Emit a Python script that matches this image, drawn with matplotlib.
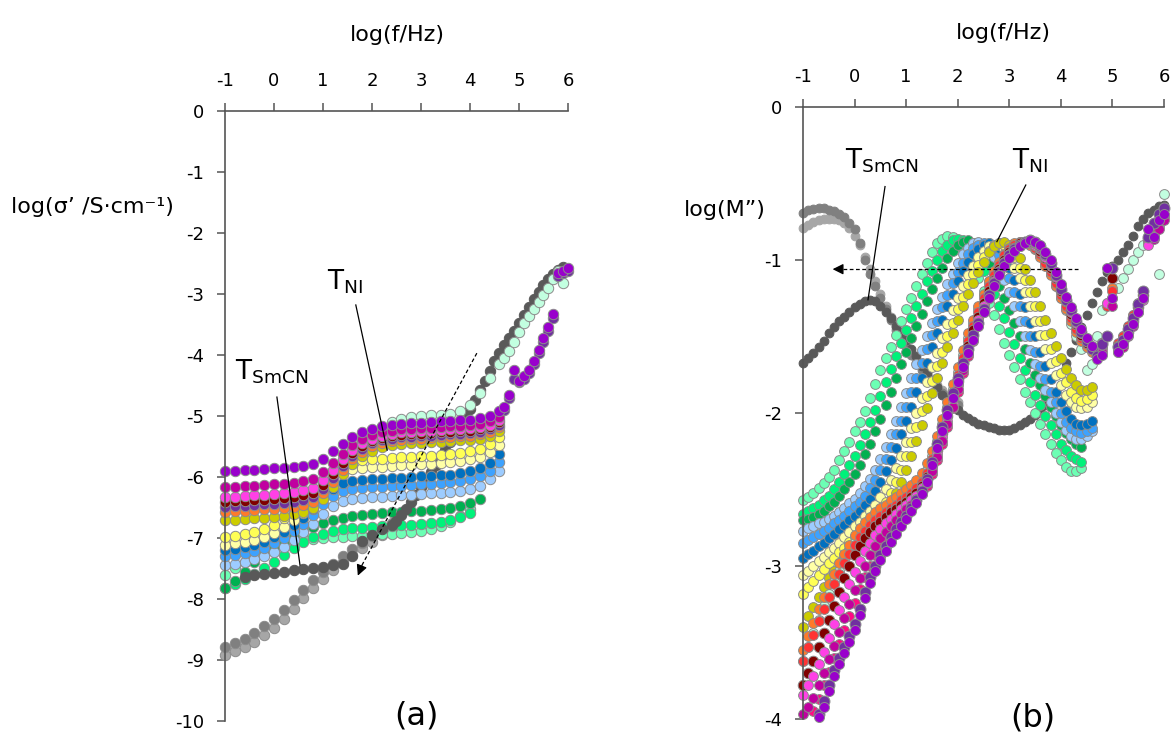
import numpy as np
import matplotlib
matplotlib.use("Agg")
import matplotlib.pyplot as plt

plt.rcParams["font.family"] = ["DejaVu Sans"]
plt.rcParams["axes.unicode_minus"] = False
plt.rcParams["mathtext.default"] = "regular"

nan = np.nan

# ---------------- panel (a): log(sigma') vs log(f) ----------------
freq_a = [-1.0, -0.8, -0.6, -0.4, -0.2, 0.0, 0.2, 0.4, 0.6, 0.8, 1.0, 1.2, 1.4, 1.6, 1.8,
          2.0, 2.2, 2.4, 2.6, 2.8, 3.0, 3.2, 3.4, 3.6, 3.8, 4.0, 4.2, 4.4, 4.6]
freq_a_hf = [4.7, 4.8, 4.9, 5.0, 5.1, 5.2, 5.3, 5.4, 5.5, 5.6, 5.7, 5.8, 5.9, 6.0]
freq_a_grey_hf = [2.5, 2.6, 2.7, 2.8, 2.9, 3.0, 3.1, 3.2, 3.3, 3.4, 3.5, 3.6, 3.7, 3.8, 3.9,
                  4.0, 4.1, 4.2, 4.3, 4.4, 4.5, 4.6, 4.7, 4.8, 4.9, 5.0, 5.1, 5.2, 5.3, 5.4,
                  5.5, 5.6, 5.7, 5.8, 5.9]

sig_lightgrey = [-8.92, -8.86, -8.79, -8.70, -8.59, -8.47, -8.32, -8.16, -7.99, -7.82, -7.67, -7.53,
                 -7.40, -7.28, -7.17, -7.06, -6.95, -6.84]
sig_grey = [-8.78, -8.72, -8.65, -8.56, -8.45, -8.33, -8.18, -8.02, -7.85, -7.69, -7.55, -7.42,
            -7.29, -7.18, -7.08, -6.97, -6.86, -6.76]
sig_darkgrey = [nan, nan, -7.64, -7.61, -7.59, -7.57, -7.55, -7.53, -7.51, -7.49, -7.47, -7.45,
                -7.42, -7.30, -7.05, -6.95, -6.86, -6.78]
sig_darkgrey_hf = [-6.72, -6.62, -6.52, -6.41, -6.29, -6.16, -6.04, -5.92, -5.80, -5.68, -5.56, -5.43,
                   -5.30, -5.16, -5.02, -4.88, -4.73, -4.58, -4.42, -4.26, -4.10, -3.96, -3.84, -3.72,
                   -3.60, -3.47, -3.34, -3.21, -3.09, -2.97, -2.86, -2.76, -2.67, -2.60, -2.55]
sig_mint = [-7.60, -7.50, -7.40, -7.30, -7.21, -7.13, -7.07, -7.04, -7.02, -7.01, -7.00, -6.99, -6.98,
            -6.97, -6.96, -6.95, -6.94, -6.93, -6.92, -6.90, -6.88, -6.85, -6.80, -6.73, -6.64, -6.52]
sig_brightgreen = [-7.82, -7.76, -7.68, -7.59, -7.49, -7.39, -7.28, -7.17, -7.07, -6.99, -6.93, -6.89,
                   -6.86, -6.84, -6.83, -6.82, -6.81, -6.80, -6.79, -6.78, -6.77, -6.76, -6.74, -6.71,
                   -6.66, -6.59]
sig_green = [-7.82, -7.70, -7.55, -7.40, -7.27, -7.16, -7.06, -6.97, -6.89, -6.82, -6.76, -6.71, -6.67,
             -6.64, -6.62, -6.60, -6.59, -6.58, -6.57, -6.56, -6.55, -6.54, -6.53, -6.51, -6.48, -6.43,
             -6.36]
sig_paleblue = [-7.44, -7.42, -7.39, -7.35, -7.30, -7.23, -7.14, -7.03, -6.91, -6.77, -6.61, -6.47, -6.39,
                -6.36, -6.34, -6.33, -6.32, -6.31, -6.30, -6.29, -6.28, -6.27, -6.26, -6.25, -6.23, -6.20,
                -6.14, -6.04, -5.90]
sig_lightblue = [-7.30, -7.28, -7.25, -7.21, -7.16, -7.09, -7.00, -6.89, -6.77, -6.62, -6.45, -6.31, -6.23,
                 -6.20, -6.18, -6.17, -6.16, -6.15, -6.14, -6.13, -6.12, -6.11, -6.10, -6.09, -6.07, -6.04,
                 -5.99, -5.90, -5.76]
sig_blue = [-7.20, -7.18, -7.15, -7.11, -7.06, -6.99, -6.90, -6.79, -6.67, -6.52, -6.34, -6.19, -6.10,
            -6.07, -6.05, -6.04, -6.03, -6.02, -6.01, -6.00, -5.99, -5.98, -5.97, -5.96, -5.94, -5.91,
            -5.86, -5.77, -5.63]
sig_paleyellow = [-7.11, -7.09, -7.06, -7.03, -6.99, -6.92, -6.82, -6.70, -6.59, -6.44, -6.23, -6.04, -5.92,
                  -5.87, -5.85, -5.84, -5.83, -5.82, -5.81, -5.80, -5.79, -5.78, -5.77, -5.76, -5.74, -5.71,
                  -5.67, -5.59, -5.47]
sig_yellow = [-6.98, -6.96, -6.93, -6.90, -6.86, -6.78, -6.68, -6.56, -6.46, -6.30, -6.08, -5.90, -5.79,
              -5.74, -5.72, -5.71, -5.70, -5.69, -5.68, -5.67, -5.66, -5.65, -5.64, -5.63, -5.61, -5.58,
              -5.54, -5.46, -5.34]
sig_darkyellow = [-6.71, -6.70, -6.69, -6.68, -6.67, -6.66, -6.64, -6.61, -6.57, -6.51, -6.36, -6.16, -5.95,
                  -5.78, -5.66, -5.57, -5.51, -5.48, -5.46, -5.45, -5.44, -5.43, -5.42, -5.41, -5.40, -5.39,
                  -5.37, -5.32, -5.24]
sig_orange = [-6.57, -6.56, -6.55, -6.54, -6.53, -6.52, -6.51, -6.49, -6.46, -6.41, -6.27, -6.08, -5.88,
              -5.71, -5.59, -5.50, -5.44, -5.41, -5.39, -5.38, -5.37, -5.36, -5.35, -5.34, -5.33, -5.32,
              -5.30, -5.26, -5.18]
sig_purple = [-6.49, -6.48, -6.47, -6.46, -6.45, -6.44, -6.43, -6.41, -6.38, -6.33, -6.19, -6.01, -5.82,
              -5.66, -5.54, -5.45, -5.40, -5.37, -5.35, -5.34, -5.33, -5.32, -5.31, -5.30, -5.29, -5.28,
              -5.26, -5.22, -5.14]
sig_maroon = [-6.41, -6.40, -6.39, -6.38, -6.37, -6.36, -6.35, -6.33, -6.30, -6.26, -6.13, -5.95, -5.77,
              -5.61, -5.50, -5.41, -5.36, -5.33, -5.31, -5.30, -5.29, -5.28, -5.27, -5.26, -5.25, -5.24,
              -5.22, -5.18, -5.10]
sig_pink = [-6.33, -6.32, -6.31, -6.30, -6.29, -6.28, -6.27, -6.25, -6.22, -6.18, -6.05, -5.88, -5.71,
            -5.56, -5.45, -5.37, -5.32, -5.29, -5.27, -5.26, -5.25, -5.24, -5.23, -5.22, -5.21, -5.20,
            -5.18, -5.14, -5.06]
sig_magenta = [-6.17, -6.16, -6.15, -6.14, -6.13, -6.12, -6.11, -6.10, -6.07, -6.03, -5.92, -5.77, -5.62,
               -5.48, -5.38, -5.31, -5.26, -5.24, -5.22, -5.21, -5.20, -5.19, -5.18, -5.17, -5.16, -5.15,
               -5.13, -5.09, -5.01]
sig_violet = [-5.91, -5.90, -5.89, -5.88, -5.87, -5.86, -5.85, -5.84, -5.82, -5.79, -5.70, -5.58, -5.46,
              -5.35, -5.27, -5.21, -5.17, -5.15, -5.13, -5.12, -5.11, -5.10, -5.09, -5.08, -5.07, -5.06,
              -5.04, -5.00, -4.92]
sig_palemint = [nan, nan, nan, nan, nan, nan, nan, nan, nan, nan, nan, nan, nan, nan,
                -5.45, -5.30, -5.18, -5.10, -5.05, -5.02, -5.00, -4.99, -4.98, -4.96, -4.92, -4.82,
                -4.62, -4.38, -4.15]
sig_palemint_hf = [-4.05, -3.93, -3.78, -3.62, -3.48, -3.36, -3.24, -3.13, -3.02, -2.90, -2.76, -2.62,
                   -2.82, nan]
sig_purple_hf = [-4.90, -4.70, -4.40, -4.45, -4.40, -4.30, -4.15, -3.97, -3.78, -3.60, -3.40, -2.70,
                 -2.66, -2.62]
sig_violet_hf = [-4.85, -4.65, -4.25, -4.42, -4.35, -4.25, -4.10, -3.92, -3.72, -3.54, -3.33, -2.66,
                 -2.62, -2.58]

# ---------------- panel (b): log(M'') vs log(f), 0.1-decade steps ----------------
freq_b = np.round(np.arange(-1.0, 6.05, 0.1), 1)

m_darkgrey = [-1.67, -1.64, -1.61, -1.57, -1.53, -1.48, -1.44, -1.40, -1.37, -1.34,
              -1.31, -1.29, -1.27, -1.26, -1.27, -1.30, -1.34, -1.38, -1.43, -1.47,
              -1.52, -1.58, -1.63, -1.69, -1.74, -1.79, -1.83, -1.88, -1.92, -1.95,
              -1.98, -2.01, -2.03, -2.05, -2.07, -2.08, -2.09, -2.10, -2.11, -2.11,
              -2.11, -2.10, -2.08, -2.06, -2.04, -2.01, -1.98, -1.95, -1.92, nan,
              nan, -1.67, -1.60, -1.52, -1.44, -1.36, -1.28, -1.21, -1.14, -1.08,
              -1.04, -1.00, -0.95, -0.90, -0.84, -0.78, -0.73, -0.69, -0.67, -0.65,
              -0.64]
m_grey = [-0.69, -0.67, -0.665, -0.66, -0.66, -0.67, -0.68, -0.70, -0.72, -0.76,
          -0.80, -0.89, -1.00, -1.09, -1.17, -1.25, -1.32, -1.39, -1.46, -1.52,
          -1.57, -1.62, -1.67, -1.72, -1.76, -1.80, -1.84, -1.87, -1.90, -1.93,
          -1.95]
m_lightgrey = [-0.79, -0.77, -0.75, -0.74, -0.73, -0.73, -0.73, -0.74, -0.76, -0.79,
               -0.84, -0.90, -0.98, -1.06, -1.14, -1.22, -1.30, -1.37, -1.44, -1.50,
               -1.55, -1.60, -1.65, -1.70, -1.74, -1.78, -1.82, -1.85, -1.88, -1.91,
               -1.93]
m_mint = [-2.57, -2.55, -2.52, -2.49, -2.46, -2.42, -2.37, -2.31, -2.25, -2.19,
          -2.12, -2.06, -1.99, -1.90, -1.81, -1.72, -1.64, -1.57, -1.49, -1.40,
          -1.32, -1.25, -1.17, -1.09, -1.02, -0.95, -0.89, -0.86, -0.84, -0.85,
          -0.88, -0.92, -0.98, -1.05, -1.12, -1.20, -1.28, -1.36, -1.45, -1.54,
          -1.62, -1.70, -1.78, -1.86, -1.93, -2.00, -2.07, -2.14, -2.20, -2.26,
          -2.31, -2.35, -2.38, -2.38, -2.36]
m_brightgreen = [-2.66, -2.64, -2.62, -2.60, -2.57, -2.54, -2.50, -2.45, -2.40, -2.34,
                 -2.28, -2.21, -2.14, -2.06, -1.98, -1.89, -1.80, -1.71, -1.63, -1.54,
                 -1.46, -1.38, -1.30, -1.22, -1.14, -1.07, -1.00, -0.94, -0.90, -0.87,
                 -0.86, -0.87, -0.90, -0.95, -1.00, -1.07, -1.14, -1.22, -1.30, -1.38,
                 -1.47, -1.55, -1.64, -1.72, -1.80, -1.88, -1.95, -2.02, -2.08, -2.14,
                 -2.20, -2.24, -2.28, -2.30, -2.32]
m_green = [-2.70, -2.69, -2.68, -2.66, -2.64, -2.61, -2.58, -2.54, -2.50, -2.45,
           -2.40, -2.34, -2.27, -2.20, -2.12, -2.04, -1.95, -1.86, -1.77, -1.68,
           -1.60, -1.51, -1.43, -1.35, -1.27, -1.19, -1.12, -1.05, -0.99, -0.94,
           -0.90, -0.88, -0.87, -0.89, -0.92, -0.97, -1.02, -1.09, -1.17, -1.25,
           -1.33, -1.41, -1.50, -1.58, -1.67, -1.75, -1.82, -1.89, -1.96, -2.02,
           -2.08, -2.13, -2.17, -2.20, -2.22]
m_paleblue = [-2.77, -2.75, -2.74, -2.72, -2.71, -2.69, -2.67, -2.65, -2.62, -2.59,
              -2.56, -2.52, -2.48, -2.43, -2.37, -2.30, -2.22, -2.14, -2.05, -1.96,
              -1.87, -1.77, -1.68, -1.59, -1.50, -1.41, -1.32, -1.24, -1.16, -1.09,
              -1.02, -0.96, -0.92, -0.89, -0.88, -0.90, -0.93, -0.98, -1.05, -1.13,
              -1.21, -1.30, -1.40, -1.50, -1.59, -1.68, -1.77, -1.85, -1.93, -2.00,
              -2.06, -2.11, -2.15, -2.17, -2.17, -2.15, -2.12]
m_lightblue = [-2.85, -2.83, -2.81, -2.79, -2.77, -2.75, -2.72, -2.70, -2.67, -2.64,
               -2.61, -2.58, -2.54, -2.49, -2.44, -2.37, -2.30, -2.22, -2.14, -2.05,
               -1.96, -1.86, -1.77, -1.67, -1.58, -1.49, -1.40, -1.31, -1.23, -1.15,
               -1.08, -1.02, -0.96, -0.92, -0.90, -0.89, -0.89, -0.92, -0.97, -1.04,
               -1.12, -1.21, -1.30, -1.40, -1.50, -1.60, -1.69, -1.78, -1.86, -1.93,
               -2.00, -2.06, -2.10, -2.12, -2.13, -2.12, -2.10]
m_blue = [-2.95, -2.92, -2.90, -2.87, -2.85, -2.82, -2.79, -2.76, -2.73, -2.70,
          -2.67, -2.64, -2.60, -2.56, -2.51, -2.45, -2.38, -2.31, -2.23, -2.14,
          -2.05, -1.96, -1.86, -1.77, -1.67, -1.57, -1.48, -1.39, -1.30, -1.22,
          -1.14, -1.07, -1.01, -0.96, -0.93, -0.90, -0.89, -0.90, -0.92, -0.98,
          -1.05, -1.13, -1.22, -1.31, -1.41, -1.50, -1.60, -1.69, -1.78, -1.86,
          -1.93, -1.99, -2.04, -2.07, -2.08, -2.07, -2.05]
m_paleyellow = [-3.06, -3.03, -3.00, -2.97, -2.94, -2.91, -2.88, -2.85, -2.81, -2.78,
                -2.74, -2.71, -2.67, -2.64, -2.60, -2.55, -2.50, -2.44, -2.36, -2.28,
                -2.19, -2.10, -2.00, -1.90, -1.80, -1.70, -1.61, -1.51, -1.42, -1.33,
                -1.25, -1.17, -1.10, -1.04, -0.98, -0.94, -0.91, -0.90, -0.90, -0.93,
                -0.98, -1.05, -1.12, -1.21, -1.30, -1.40, -1.49, -1.58, -1.67, -1.75,
                -1.82, -1.88, -1.93, -1.96, -1.97, -1.96, -1.93]
m_yellow = [-3.18, -3.14, -3.10, -3.06, -3.02, -2.98, -2.95, -2.91, -2.88, -2.84,
            -2.81, -2.77, -2.74, -2.70, -2.67, -2.63, -2.58, -2.52, -2.45, -2.37,
            -2.28, -2.19, -2.09, -1.99, -1.89, -1.79, -1.69, -1.60, -1.50, -1.41,
            -1.32, -1.24, -1.16, -1.09, -1.03, -0.98, -0.94, -0.91, -0.89, -0.90,
            -0.93, -0.98, -1.05, -1.13, -1.21, -1.30, -1.40, -1.49, -1.58, -1.66,
            -1.74, -1.80, -1.86, -1.90, -1.92, -1.91, -1.88]
m_darkyellow = [-3.40, -3.33, -3.27, -3.20, -3.14, -3.08, -3.03, -2.98, -2.93, -2.89,
                -2.85, -2.81, -2.78, -2.74, -2.71, -2.67, -2.63, -2.58, -2.52, -2.45,
                -2.37, -2.28, -2.18, -2.08, -1.97, -1.87, -1.77, -1.67, -1.57, -1.48,
                -1.39, -1.30, -1.22, -1.15, -1.08, -1.01, -0.95, -0.91, -0.89, -0.88,
                -0.90, -0.94, -0.99, -1.06, -1.13, -1.21, -1.30, -1.39, -1.48, -1.56,
                -1.64, -1.71, -1.77, -1.82, -1.85, -1.85, -1.83]
m_palemint = [-3.62, -3.53, -3.44, -3.35, -3.26, -3.18, -3.10, -3.03, -2.96, -2.90,
              -2.84, -2.79, -2.75, -2.71, -2.68, -2.65, -2.63, -2.60, -2.58, -2.55,
              -2.53, -2.50, -2.47, -2.42, -2.37, -2.28, -2.18, -2.07, -1.96, -1.84,
              -1.73, -1.62, -1.51, -1.41, -1.32, -1.23, -1.15, -1.08, -1.02, -0.97,
              -0.93, -0.90, -0.88, -0.88, -0.90, -0.93, -0.97, -1.03, -1.09, -1.17,
              -1.25, -1.33, -1.42, -1.50, -1.58, -1.72, -1.68, -1.50, -1.33, -1.28,
              -1.25, -1.18, -1.12, -1.06, -1.00, -0.95, -0.90, -0.89, nan, -1.09,
              -0.57]
m_orange = [-3.55, -3.46, -3.37, -3.28, -3.20, -3.12, -3.05, -2.98, -2.92, -2.86,
            -2.80, -2.75, -2.71, -2.68, -2.65, -2.62, -2.60, -2.57, -2.55, -2.52,
            -2.50, -2.47, -2.44, -2.39, -2.33, -2.25, -2.15, -2.04, -1.93, -1.81,
            -1.70, -1.59, -1.48, -1.39, -1.30, -1.22, -1.14, -1.07, -1.01, -0.96,
            -0.92, -0.89, -0.88, -0.88, -0.90, -0.93, -0.98, -1.04, -1.10, -1.17,
            -1.25, -1.32, -1.40, -1.47, -1.53, -1.57, -1.60, -1.62, -1.58, nan,
            -1.18, -1.55, -1.50, -1.44, -1.36, -1.28, -1.20, -0.88, -0.82, nan,
            nan]
m_red = [-3.62, -3.53, -3.45, -3.36, -3.28, -3.20, -3.12, -3.05, -2.98, -2.92,
         -2.86, -2.81, -2.77, -2.73, -2.70, -2.67, -2.65, -2.62, -2.60, -2.57,
         -2.55, -2.52, -2.49, -2.45, -2.39, -2.30, -2.20, -2.09, -1.98, -1.86,
         -1.75, -1.64, -1.53, -1.43, -1.34, -1.25, -1.17, -1.10, -1.03, -0.97,
         -0.93, -0.90, -0.88, -0.88, -0.89, -0.92, -0.96, -1.02, -1.08, -1.15,
         -1.23, -1.30, -1.38, -1.45, -1.51, -1.55, -1.58, -1.59, -1.56, -1.30,
         -1.20, -1.54, -1.50, -1.43, -1.36, -1.29, -1.22, nan, nan, nan,
         nan]
m_maroon = [-3.78, -3.70, -3.62, -3.53, -3.44, -3.35, -3.26, -3.17, -3.08, -3.00,
            -2.93, -2.87, -2.82, -2.78, -2.74, -2.71, -2.68, -2.65, -2.63, -2.60,
            -2.58, -2.55, -2.52, -2.48, -2.42, -2.34, -2.24, -2.13, -2.02, -1.90,
            -1.79, -1.67, -1.56, -1.46, -1.37, -1.28, -1.20, -1.13, -1.06, -1.00,
            -0.95, -0.92, -0.89, -0.88, -0.88, -0.90, -0.94, -0.99, -1.05, -1.12,
            -1.20, -1.27, -1.35, -1.42, -1.49, -1.54, -1.58, -1.60, -1.54, nan,
            -1.12, -1.56, -1.53, -1.47, -1.40, -1.31, -1.23, -0.86, -0.80, nan,
            nan]
m_pink = [-3.84, -3.78, -3.72, -3.64, -3.56, -3.47, -3.38, -3.29, -3.20, -3.12,
          -3.04, -2.97, -2.90, -2.85, -2.80, -2.76, -2.72, -2.69, -2.66, -2.63,
          -2.60, -2.57, -2.54, -2.49, -2.44, -2.36, -2.27, -2.16, -2.05, -1.94,
          -1.82, -1.70, -1.59, -1.49, -1.39, -1.30, -1.22, -1.14, -1.07, -1.01,
          -0.96, -0.93, -0.90, -0.89, -0.88, -0.90, -0.93, -0.98, -1.04, -1.11,
          -1.19, -1.26, -1.34, -1.41, -1.48, -1.53, -1.58, -1.61, -1.56, -1.28,
          nan, -1.58, -1.55, -1.48, -1.41, -1.34, -1.26, -0.90, -0.84, -0.78,
          -0.72]
m_deeppink = [nan, nan, -3.95, -3.87, -3.78, -3.69, -3.60, -3.51, -3.42, -3.33,
              -3.24, -3.15, -3.07, -3.00, -2.93, -2.87, -2.82, -2.77, -2.73, -2.69,
              -2.65, -2.61, -2.58, -2.53, -2.48, -2.40, -2.31, -2.20, -2.09, -1.97,
              -1.86, -1.74, -1.63, -1.53, -1.43, -1.34, -1.25, -1.17, -1.09, -1.03,
              -0.98, -0.94, -0.91, -0.89, -0.88, -0.89, -0.92, -0.97, -1.02, -1.09,
              -1.17, -1.24, -1.32, -1.39, -1.46, -1.52, -1.57]
m_magenta = [-3.97, -3.92, -3.86, -3.78, -3.70, -3.61, -3.52, -3.43, -3.34, -3.25,
             -3.16, -3.08, -3.00, -2.93, -2.87, -2.82, -2.78, -2.74, -2.70, -2.66,
             -2.63, -2.60, -2.56, -2.52, -2.46, -2.38, -2.29, -2.18, -2.07, -1.96,
             -1.84, -1.72, -1.61, -1.51, -1.41, -1.32, -1.24, -1.16, -1.08, -1.02,
             -0.97, -0.93, -0.90, -0.89, -0.88, -0.89, -0.92, -0.97, -1.03, -1.10,
             -1.18, -1.25, -1.33, -1.40, -1.47, -1.53, -1.58, -1.62, -1.60, nan,
             -1.30, -1.60, -1.57, -1.50, -1.43, -1.34, -1.25, nan, -0.86, -0.80,
             -0.74]
m_purple = [nan, nan, nan, -3.97, -3.88, -3.78, -3.68, -3.60, -3.53, -3.46,
            -3.38, -3.28, -3.17, -3.07, -3.00, -2.93, -2.87, -2.81, -2.76, -2.71,
            -2.67, -2.62, -2.57, -2.51, -2.43, -2.32, -2.20, -2.09, -1.98, -1.87,
            -1.77, -1.67, -1.58, -1.49, -1.41, -1.32, -1.23, -1.15, -1.08, -1.02,
            -0.97, -0.93, -0.90, -0.88, -0.87, -0.88, -0.91, -0.96, -1.02, -1.10,
            -1.19, -1.26, -1.33, -1.40, -1.47, -1.53, -1.58, -1.63, -1.55, -1.50,
            -1.05, -1.57, -1.52, -1.45, -1.38, -1.29, -1.20, -0.85, -0.76, -0.70,
            -0.66]
m_violet = [nan, nan, nan, -3.99, -3.92, -3.82, -3.72, -3.64, -3.57, -3.50,
            -3.42, -3.32, -3.21, -3.11, -3.03, -2.96, -2.90, -2.84, -2.79, -2.74,
            -2.69, -2.64, -2.59, -2.53, -2.45, -2.34, -2.23, -2.12, -2.01, -1.90,
            -1.80, -1.70, -1.61, -1.52, -1.43, -1.34, -1.25, -1.17, -1.10, -1.04,
            -0.99, -0.94, -0.91, -0.89, -0.87, -0.88, -0.90, -0.95, -1.00, -1.08,
            -1.16, -1.24, -1.31, -1.38, -1.45, -1.51, -1.56, -1.65, -1.62, -1.05,
            -1.25, -1.60, -1.55, -1.49, -1.42, -1.34, -1.25, -0.80, -0.85, -0.74,
            -0.70]

# colours
C = {
    "lightgrey": "#A6A6A6", "grey": "#808080", "darkgrey": "#595959",
    "mint": "#6CFFB4", "brightgreen": "#00F27A", "green": "#00B050", "palemint": "#C2FFE0",
    "paleblue": "#9DCCFF", "lightblue": "#3DA2FF", "blue": "#0070C0",
    "paleyellow": "#FFFFA6", "yellow": "#FFFF55", "darkyellow": "#CCCC00",
    "orange": "#FF7A2A", "red": "#FF3333", "maroon": "#800000", "purple": "#7030A0",
    "pink": "#FF40E6", "deeppink": "#FF0A84", "magenta": "#C000A0", "violet": "#9900CC",
}
EDGE = "#8C8C8C"


def dots(ax, x, y, color, s, edge=EDGE, lw=0.7, z=2):
    y = np.asarray(y, float)
    x = np.asarray(x, float)[:len(y)]
    y = y[:len(x)]
    ok = ~np.isnan(y)
    ax.scatter(x[ok], y[ok], s=s, c=color, edgecolors=edge, linewidths=lw,
               zorder=z, clip_on=False)


def style_axes(ax, ylim, yticks):
    ax.set_xlim(-1, 6)
    ax.set_ylim(*ylim)
    for sp in ("right", "bottom"):
        ax.spines[sp].set_visible(False)
    for sp in ("left", "top"):
        ax.spines[sp].set_color("#555555")
        ax.spines[sp].set_linewidth(1.2)
    ax.xaxis.tick_top()
    ax.set_xticks(range(-1, 7))
    ax.set_yticks(yticks)
    ax.set_yticklabels([str(v) for v in yticks])
    ax.tick_params(direction="out", length=6, width=1.1, color="#555555",
                   labelsize=13, pad=9)
    ax.set_facecolor("none")


fig = plt.figure(figsize=(11.73, 7.40), dpi=100)
axa = fig.add_axes([0.1918, 0.0257, 0.2924, 0.8243])
axb = fig.add_axes([0.6846, 0.0284, 0.3077, 0.8270])

# ---- panel (a)
sa = 56
dots(axa, freq_a, sig_lightgrey, C["lightgrey"], sa)
dots(axa, freq_a, sig_grey, C["grey"], sa)
dots(axa, freq_a, sig_mint, C["mint"], sa)
dots(axa, freq_a, sig_brightgreen, C["brightgreen"], sa)
dots(axa, freq_a, sig_green, C["green"], sa)
dots(axa, freq_a, sig_darkgrey, C["darkgrey"], sa, edge=C["darkgrey"])
dots(axa, freq_a_grey_hf, sig_darkgrey_hf, C["darkgrey"], sa, edge=C["darkgrey"])
dots(axa, freq_a, sig_paleblue, C["paleblue"], sa)
dots(axa, freq_a, sig_lightblue, C["lightblue"], sa)
dots(axa, freq_a, sig_blue, C["blue"], sa)
dots(axa, freq_a, sig_paleyellow, C["paleyellow"], sa)
dots(axa, freq_a, sig_yellow, C["yellow"], sa)
dots(axa, freq_a, sig_palemint, C["palemint"], sa)
dots(axa, freq_a_hf, sig_palemint_hf, C["palemint"], sa)
dots(axa, freq_a, sig_darkyellow, C["darkyellow"], sa)
dots(axa, freq_a, sig_orange, C["orange"], sa)
dots(axa, freq_a, sig_purple, C["purple"], sa)
dots(axa, freq_a, sig_maroon, C["maroon"], sa)
dots(axa, freq_a, sig_pink, C["pink"], sa)
dots(axa, freq_a, sig_magenta, C["magenta"], sa)
dots(axa, freq_a_hf, sig_purple_hf, C["purple"], sa)
dots(axa, freq_a, sig_violet, C["violet"], sa)
dots(axa, freq_a_hf, sig_violet_hf, C["violet"], sa)
style_axes(axa, (-10, 0), list(range(0, -11, -1)))

# annotations (a)
axa.plot([1.67, 2.31], [-3.18, -5.56], color="black", lw=0.9, zorder=5)
axa.plot([0.06, 0.53], [-4.69, -7.44], color="black", lw=0.9, zorder=5)
axa.text(1.45, -2.80, r"T$_{NI}$", fontsize=19, ha="center", va="center", zorder=6)
axa.text(-0.04, -4.28, r"T$_{SmCN}$", fontsize=19, ha="center", va="center", zorder=6)
axa.plot([4.14, 1.80], [-3.97, -7.44], color="black", lw=0.9, ls=(0, (3, 2)), zorder=5)
axa.annotate("", xy=(1.69, -7.66), xytext=(1.82, -7.40),
             arrowprops=dict(arrowstyle="-|>", color="black", lw=0.9, mutation_scale=16),
             zorder=5)

# ---- panel (b)
sb = 50
dots(axb, freq_b, m_lightgrey, C["lightgrey"], 40, edge=C["lightgrey"])
dots(axb, freq_b, m_grey, C["grey"], 40, edge=C["grey"])
dots(axb, freq_b, m_darkgrey, C["darkgrey"], 40, edge=C["darkgrey"])
dots(axb, freq_b, m_mint, C["mint"], sb)
dots(axb, freq_b, m_brightgreen, C["brightgreen"], sb)
dots(axb, freq_b, m_green, C["green"], sb)
dots(axb, freq_b, m_paleblue, C["paleblue"], sb)
dots(axb, freq_b, m_lightblue, C["lightblue"], sb)
dots(axb, freq_b, m_blue, C["blue"], sb)
dots(axb, freq_b, m_paleyellow, C["paleyellow"], sb)
dots(axb, freq_b, m_yellow, C["yellow"], sb)
dots(axb, freq_b, m_darkyellow, C["darkyellow"], sb)
dots(axb, freq_b, m_palemint, C["palemint"], sb)
dots(axb, freq_b, m_orange, C["orange"], sb)
dots(axb, freq_b, m_red, C["red"], sb)
dots(axb, freq_b, m_maroon, C["maroon"], 58)
dots(axb, freq_b, m_pink, C["pink"], sb)
dots(axb, freq_b, m_deeppink, C["deeppink"], sb)
dots(axb, freq_b, m_magenta, C["magenta"], sb)
dots(axb, freq_b, m_purple, C["purple"], 62)
dots(axb, freq_b, m_violet, C["violet"], 52)
style_axes(axb, (-4, 0), [0, -1, -2, -3, -4])

axb.plot([0.59, 0.26], [-0.52, -1.26], color="black", lw=0.9, zorder=5)
axb.plot([3.32, 2.76], [-0.51, -0.88], color="black", lw=0.9, zorder=5)
axb.text(0.53, -0.35, r"T$_{SmCN}$", fontsize=19, ha="center", va="center", zorder=6)
axb.text(3.40, -0.35, r"T$_{NI}$", fontsize=19, ha="center", va="center", zorder=6)
axb.plot([4.33, -0.30], [-1.06, -1.06], color="black", lw=0.9, ls=(0, (3, 2)), zorder=5)
axb.annotate("", xy=(-0.48, -1.06), xytext=(-0.28, -1.06),
             arrowprops=dict(arrowstyle="-|>", color="black", lw=0.9, mutation_scale=16),
             zorder=5)

# axis titles and panel letters
fig.text(397 / 1173, 1 - 35 / 740, "log(f/Hz)", fontsize=16, ha="center", va="center")
fig.text(1003 / 1173, 1 - 33 / 740, "log(f/Hz)", fontsize=16, ha="center", va="center")
fig.text(174 / 1173, 1 - 207 / 740, "log(σ’ /S·cm⁻¹)", fontsize=16, ha="right", va="center")
fig.text(766 / 1173, 1 - 210 / 740, "log(M”)", fontsize=16, ha="right", va="center")
fig.text(416 / 1173, 1 - 716 / 740, "(a)", fontsize=23, ha="center", va="center")
fig.text(1033 / 1173, 1 - 718 / 740, "(b)", fontsize=23, ha="center", va="center")

fig.savefig("out.png", dpi=100, facecolor="white")
